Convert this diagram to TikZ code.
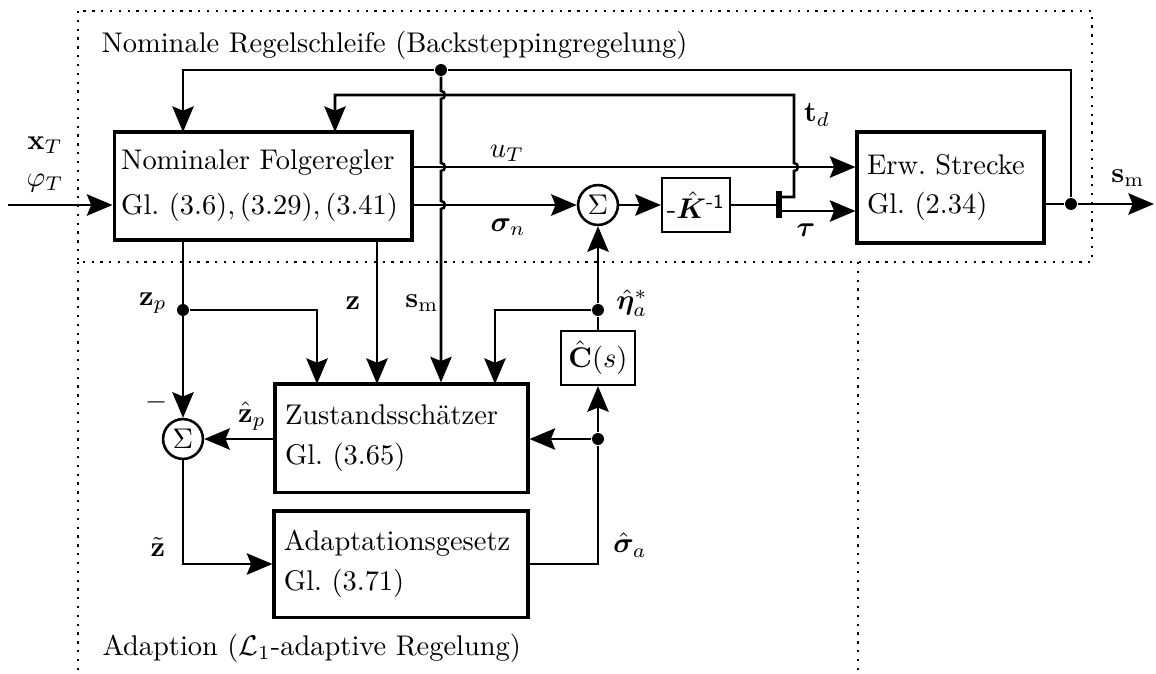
\documentclass[tikz,border=0pt]{standalone}
\usepackage{amsmath,bm}
\usetikzlibrary{arrows.meta,calc}
\begin{document}
\begin{tikzpicture}[x=0.3515pt,y=-0.3515pt,
  ln/.style={line width=0.9pt},
  arr/.style={line width=0.9pt,-{Stealth[length=9pt,width=7.5pt,inset=1.5pt]}},
  block/.style={draw,line width=1.1pt,align=left,inner xsep=3.5pt,inner ysep=0pt},
  smallbox/.style={draw,line width=0.8pt,inner sep=1.5pt},
  sumnode/.style={draw,circle,line width=0.9pt,minimum size=14pt,inner sep=0pt},
  jdot/.style={circle,fill,inner sep=0pt,minimum size=4.2pt},
  frame/.style={line width=0.9pt,dash pattern=on 0.8pt off 2.3pt},
  lbl/.style={inner sep=0pt}]
\useasboundingbox (0,0) rectangle (1156,673);

% frames
\draw[frame] (78,11) rectangle (1092,262);
\draw[frame] (78,262) -- (78,673);
\draw[frame] (858,262) -- (858,673);
\node[lbl,anchor=base west] (t1) at (101,52) {Nominale Regelschleife (Backsteppingregelung)};
\node[lbl,anchor=base west] (t2) at (102,655) {Adaption ($\mathcal{L}_1$-adaptive Regelung)};

% blocks
\node[block,inner xsep=2.5pt,text width=99.7pt,minimum height=38pt] (NF) at (263,186)
  {Nominaler Folgeregler\\[3.8pt]Gl.~$(3.6), (3.29), (3.41)$};
\node[block,text width=81.9pt,minimum height=38pt] (ZS) at (401.5,438)
  {Zustandssch\"atzer\\[2.2pt]Gl.\ (3.65)};
\node[block,text width=82.3pt,minimum height=37.3pt] (AG) at (401,564)
  {Adaptationsgesetz\\[2pt]Gl.\ (3.71)};
\node[block,text width=58.7pt,minimum height=39pt] (ES) at (950.5,187.5)
  {Erw.\ Strecke\\[2pt]Gl.\ (2.34)};
\node[smallbox,minimum width=23.9pt,minimum height=19pt] (K) at (696,205)
  {-$\hat{\bm{K}}^{\textsf{-1}}$};
\node[smallbox,minimum width=26pt,minimum height=19pt] (C) at (598,358)
  {$\hat{\mathbf{C}}(s)$};
\node[sumnode] (S1) at (598,205) {$\Sigma$};
\node[sumnode] (S2) at (183,439) {$\Sigma$};

% junctions and ports
\node[jdot] (d1) at (441,70) {};
\node[jdot] (dOut) at (1071,204) {};
\node[jdot] (d2) at (183,310) {};
\node[jdot] (d3) at (598,310) {};
\node[jdot] (d4) at (598,439) {};
\coordinate (in) at (8,205);
\coordinate (smOut) at (1154,204);
\coordinate (nfT1) at (183,132);
\coordinate (nfT2) at (335,132);
\coordinate (bar) at (779,205);
\coordinate (barTd) at (779,197);
\coordinate (barTau) at (779,211);

% nominal loop
\draw[arr] (in) -- (in -| NF.west);
\draw[arr] (dOut) |- (d1) -| (nfT1);
\draw[arr] (d1) -- (441,91) arc[start angle=90,end angle=-90,radius=1.4pt]
  -- (441,163) arc[start angle=90,end angle=-90,radius=1.4pt]
  -- (441,201) arc[start angle=90,end angle=-90,radius=1.4pt]
  -- (ZS.north -| d1);
\draw[arr] (barTd) -- (794,197) -- (794,171) arc[start angle=-90,end angle=90,radius=1.4pt]
  -- (794,95) -| (nfT2);
\draw[arr] (NF.east |- 0,167) -- (ES.west |- 0,167);
\draw[arr] (NF.east |- S1) -- (S1);
\draw[arr] (S1) -- (K);
\draw[ln] (K) -- (bar);
\draw[line width=1.8pt] (779,191) -- (779,218);
\draw[arr] (barTau) -- (ES.west |- barTau);
\draw[ln] (ES.east |- dOut) -- (dOut);
\draw[arr] (dOut) -- (smOut);

% adaptation
\draw[arr] (d2 |- NF.south) -- (S2);
\draw[arr] (d2) -| (317,384);
\draw[arr] (377,240) -- (377,384);
\draw[arr] (ZS.west |- S2) -- (S2);
\draw[arr] (S2) |- (AG.west);
\draw[ln] (AG.east) -| (d4);
\draw[arr] (d4) -- (C.south);
\draw[arr] (d4) -- (ZS.east |- d4);
\draw[ln] (C.north) -- (d3);
\draw[arr] (d3) -- (S1.south);
\draw[arr] (d3) -| (495,384);

% labels
\node[lbl] (lx) at (45,145) {$\mathbf{x}_T$};
\node[lbl] (lphi) at (45,183) {$\varphi_T$};
\node[lbl] (luT) at (507,153) {$u_T$};
\node[lbl] (lsig) at (508,227) {$\bm{\sigma}_n$};
\node[lbl] (ltd) at (817,115) {$\mathbf{t}_d$};
\node[lbl] (ltau) at (806,230) {$\bm{\tau}$};
\node[lbl] (lsm) at (1128,178) {$\mathbf{s}_\mathrm{m}$};
\node[lbl] (lzp) at (153,303) {$\mathbf{z}_p$};
\node[lbl] (lz) at (353,303) {$\mathbf{z}$};
\node[lbl] (lsm2) at (422,303) {$\mathbf{s}_\mathrm{m}$};
\node[lbl] (leta) at (632,303) {$\hat{\bm{\eta}}_a^*$};
\node[lbl] (lsiga) at (630,545) {$\hat{\bm{\sigma}}_a$};
\node[lbl] (lzph) at (252,416) {$\hat{\mathbf{z}}_p$};
\node[lbl] (lminus) at (157,402) {$-$};
\node[lbl] (lzt) at (158,547) {$\tilde{\mathbf{z}}$};
\end{tikzpicture}
\end{document}
